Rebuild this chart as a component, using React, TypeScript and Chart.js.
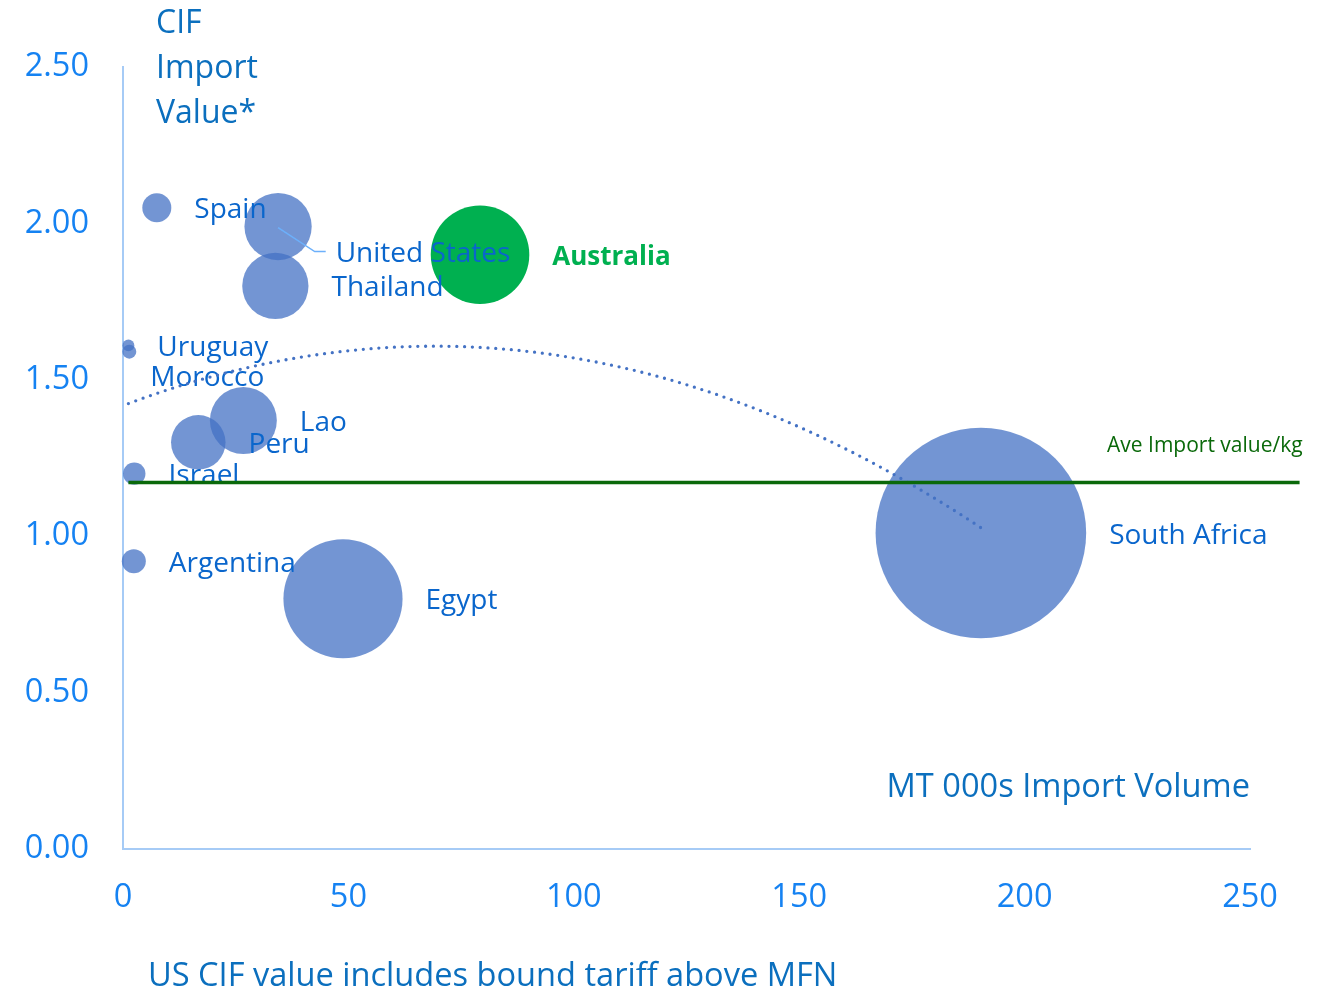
import React, { useEffect, useRef } from "react";
import { Chart, registerables } from "chart.js";

Chart.register(...registerables);

// ---------- data ----------
const countries = [
  "Spain", "United States", "Thailand", "Australia", "Uruguay", "Morocco",
  "Lao", "Peru", "Israel", "Argentina", "Egypt", "South Africa",
];
// x: MT 000s import volume
const importVolume = [7.5, 34.4, 33.8, 79.2, 1.2, 1.4, 26.7, 16.7, 2.5, 2.4, 48.8, 190.3];
// y: CIF import value (per kg)
const cifImportValue = [2.05, 1.99, 1.80, 1.90, 1.61, 1.59, 1.37, 1.30, 1.20, 0.92, 0.80, 1.01];
// bubble size (relative)
const bubbleSize = [1.9, 10.2, 9.9, 21.9, 0.32, 0.44, 10.1, 6.7, 1.13, 1.3, 32.0, 100];
const highlightCountry = "Australia";

const averageImportValue = 1.172;
const averageLineFrom = 1.2;
const averageLineTo = 261;

const xTickValues = [0, 50, 100, 150, 200, 250];
const yTickValues = [0, 0.5, 1.0, 1.5, 2.0, 2.5];

const yTitleLines = ["CIF", "Import", "Value*"];
const xTitle = "MT 000s Import Volume";
const footNote = "US CIF value includes bound tariff above MFN";
const averageLabel = "Ave Import value/kg";

// ---------- styling ----------
const FONT = '"Open Sans", "DejaVu Sans", sans-serif';
const TICK_COLOR = "#1582f2";
const TITLE_COLOR = "#0b6fbe";
const LABEL_COLOR = "#0a66cc";
const BUBBLE_COLOR = "rgba(68,114,196,0.75)";
const HIGHLIGHT_COLOR = "#00b050";
const AVG_COLOR = "#0a690a";
const AXIS_COLOR = "#a6cbf6";
const MAX_RADIUS = 105.3;

// manual label nudges (px) relative to default "right of bubble" placement
const labelNudge: Record<string, { dx: number; dy: number; leader?: boolean }> = {
  "United States": { dx: 1, dy: 25, leader: true },
  Morocco: { dx: -9, dy: 24 },
};

// least squares quadratic fit (Excel-style polynomial trendline, order 2)
function quadraticFit(xs: number[], ys: number[]) {
  let s0 = xs.length, s1 = 0, s2 = 0, s3 = 0, s4 = 0, t0 = 0, t1 = 0, t2 = 0;
  for (let i = 0; i < xs.length; i++) {
    const x = xs[i], y = ys[i];
    s1 += x; s2 += x * x; s3 += x * x * x; s4 += x * x * x * x;
    t0 += y; t1 += x * y; t2 += x * x * y;
  }
  const det = (m: number[][]) =>
    m[0][0] * (m[1][1] * m[2][2] - m[1][2] * m[2][1]) -
    m[0][1] * (m[1][0] * m[2][2] - m[1][2] * m[2][0]) +
    m[0][2] * (m[1][0] * m[2][1] - m[1][1] * m[2][0]);
  const A = [[s0, s1, s2], [s1, s2, s3], [s2, s3, s4]];
  const D = det(A);
  const c0 = det([[t0, s1, s2], [t1, s2, s3], [t2, s3, s4]]) / D;
  const c1 = det([[s0, t0, s2], [s1, t1, s3], [s2, t2, s4]]) / D;
  const c2 = det([[s0, s1, t0], [s1, s2, t1], [s2, s3, t2]]) / D;
  return (x: number) => c0 + c1 * x + c2 * x * x;
}

export default function App() {
  const canvasRef = useRef<HTMLCanvasElement | null>(null);

  useEffect(() => {
    const canvas = canvasRef.current;
    if (!canvas) return;

    const maxSize = Math.max(...bubbleSize);
    const radii = bubbleSize.map((s) => MAX_RADIUS * Math.sqrt(s / maxSize));

    const fit = quadraticFit(importVolume, cifImportValue);
    const minX = Math.min(...importVolume);
    const maxX = Math.max(...importVolume);
    const trend: { x: number; y: number }[] = [];
    const steps = 120;
    for (let i = 0; i <= steps; i++) {
      const x = minX + ((maxX - minX) * i) / steps;
      trend.push({ x, y: fit(x) });
    }

    const bubbles = countries.map((c, i) => ({
      x: importVolume[i],
      y: cifImportValue[i],
      r: radii[i],
    }));

    const annotations = {
      id: "annotations",
      afterDatasetDraw(chart: any, args: any) {
        if (args.index !== 2) return;
        const ctx = chart.ctx as CanvasRenderingContext2D;
        ctx.save();
        args.meta.data.forEach((el: any, i: number) => {
          const name = countries[i];
          const cx = el.x, cy = el.y;
          const nudge = labelNudge[name] || { dx: 0, dy: 0 };
          const lx = cx + radii[i] + 23 + nudge.dx;
          const ly = cy + nudge.dy;
          const isHi = name === highlightCountry;
          if (nudge.leader) {
            ctx.strokeStyle = "#6cb0fb";
            ctx.lineWidth = 1.5;
            ctx.beginPath();
            ctx.moveTo(cx, cy + 1);
            ctx.lineTo(lx - 21, ly);
            ctx.lineTo(lx - 10, ly);
            ctx.stroke();
          }
          ctx.font = (isHi ? "bold 26px " : "28px ") + FONT;
          ctx.fillStyle = isHi ? HIGHLIGHT_COLOR : LABEL_COLOR;
          ctx.textAlign = "left";
          ctx.textBaseline = "alphabetic";
          ctx.fillText(name, lx, ly + 10.5);
        });
        ctx.restore();
      },
      afterDraw(chart: any) {
        const ctx = chart.ctx as CanvasRenderingContext2D;
        const area = chart.chartArea;
        const ys = chart.scales.y;
        const xs = chart.scales.x;
        ctx.save();
        ctx.textBaseline = "alphabetic";
        ctx.fillStyle = TITLE_COLOR;
        ctx.font = "32px " + FONT;
        ctx.textAlign = "left";
        yTitleLines.forEach((t, i) => ctx.fillText(t, area.left + 33, 33 + i * 45));
        ctx.font = "32.6px " + FONT;
        ctx.textAlign = "right";
        ctx.fillText(xTitle, area.right, 797);
        ctx.textAlign = "left";
        ctx.fillText(footNote, area.left + 25, 986);
        ctx.font = "21px " + FONT;
        ctx.fillStyle = AVG_COLOR;
        ctx.textAlign = "right";
        ctx.fillText(averageLabel, xs.getPixelForValue(averageLineTo) + 3, ys.getPixelForValue(averageImportValue) - 30);
        ctx.restore();
      },
    };

    const zeroPad = (s: any) => {
      s.paddingTop = 0;
      s.paddingBottom = 0;
      s.paddingLeft = 0;
      s.paddingRight = 0;
    };

    const chart = new Chart(canvas, {
      type: "bubble",
      data: {
        datasets: [
          {
            type: "line",
            label: "Average",
            data: [
              { x: averageLineFrom, y: averageImportValue },
              { x: averageLineTo, y: averageImportValue },
            ],
            borderColor: AVG_COLOR,
            borderWidth: 3.5,
            pointRadius: 0,
            clip: false,
          } as any,
          {
            type: "line",
            label: "Trend",
            data: trend,
            borderColor: "#4472c4",
            borderWidth: 3.3,
            borderDash: [0, 7.8],
            borderCapStyle: "round",
            pointRadius: 0,
            tension: 0,
            clip: false,
          } as any,
          {
            type: "bubble",
            label: "Countries",
            data: bubbles,
            backgroundColor: countries.map((c) => (c === highlightCountry ? HIGHLIGHT_COLOR : BUBBLE_COLOR)),
            borderWidth: 0,
            hoverBorderWidth: 0,
            clip: false,
          } as any,
        ],
      },
      options: {
        animation: false,
        responsive: false,
        maintainAspectRatio: false,
        events: [],
        layout: { autoPadding: false, padding: { left: 0, right: 75, top: 67, bottom: 0 } },
        plugins: {
          legend: { display: false },
          tooltip: { enabled: false },
          title: { display: false },
        },
        scales: {
          x: {
            type: "linear",
            min: 0,
            max: 250,
            grid: { display: false, drawTicks: false },
            border: { display: true, color: AXIS_COLOR, width: 2 },
            ticks: {
              color: TICK_COLOR,
              font: { family: FONT, size: 32.5 },
              padding: 29,
              maxRotation: 0,
            },
            afterBuildTicks: (s: any) => {
              s.ticks = xTickValues.map((v) => ({ value: v }));
            },
            afterFit: (s: any) => {
              s.height = 141;
              zeroPad(s);
            },
          },
          y: {
            type: "linear",
            min: 0,
            max: 2.5,
            grid: { display: false, drawTicks: false },
            border: { display: true, color: AXIS_COLOR, width: 2 },
            ticks: {
              color: TICK_COLOR,
              font: { family: FONT, size: 32.5 },
              padding: 34,
              callback: (v: any) => Number(v).toFixed(2),
            },
            afterBuildTicks: (s: any) => {
              s.ticks = yTickValues.map((v) => ({ value: v }));
            },
            afterFit: (s: any) => {
              s.width = 123;
              zeroPad(s);
            },
          },
        },
      },
      plugins: [annotations],
    });

    return () => chart.destroy();
  }, []);

  return (
    <div style={{ position: "absolute", left: 0, top: 0, width: 1325, height: 990, background: "#fff" }}>
      <canvas ref={canvasRef} width={1325} height={990} style={{ width: 1325, height: 990, display: "block" }} />
    </div>
  );
}
